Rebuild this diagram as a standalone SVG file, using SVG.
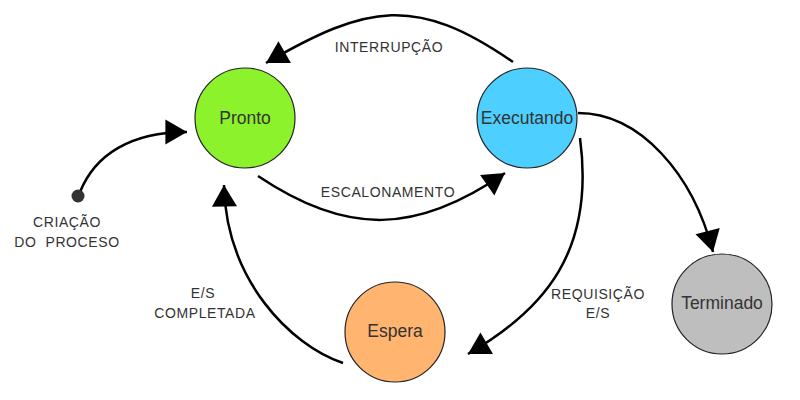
<svg xmlns="http://www.w3.org/2000/svg" width="800" height="400" viewBox="0 0 800 400">
  <defs>
    <marker id="arrow" markerUnits="userSpaceOnUse" markerWidth="24" markerHeight="26" viewBox="0 -13 22 26" refX="21.6" refY="0" orient="auto">
      <path d="M0,-12.5 L21.6,0 L0,12.5 Z" fill="#000"/>
    </marker>
    <style>
      .node { stroke: #222; stroke-width: 1.2; }
      .nlabel { font-family: "Liberation Sans", Arial, sans-serif; font-size: 17.5px; fill: #333; text-anchor: middle; }
      .elabel { font-family: "Liberation Sans", Arial, sans-serif; font-size: 14px; letter-spacing: 0.6px; fill: #333; text-anchor: middle; }
      .edge { fill: none; stroke: #000; stroke-width: 2.5; marker-end: url(#arrow); }
    </style>
  </defs>
  <rect width="800" height="400" fill="#fff"/>

  <g id="connectors">
    <path class="edge" d="M513,62 C416,-5 368,4 266,63"/>
    <path class="edge" d="M258,176 C347,236 417,234 505,173"/>
    <path class="edge" d="M80,192 C95,155 130,132 187,132"/>
    <path class="edge" d="M343,363 C290,345 226,280 224,185"/>
    <path class="edge" d="M580,138 C595,250 546,309 468,354"/>
    <path class="edge" d="M578,113 C640,113 693,174 713,252"/>
    <circle cx="78" cy="196" r="6.5" fill="#333"/>
  </g>

  <g id="pronto">
    <circle class="node" cx="245" cy="118" r="50" fill="#8cf22b"/>
    <text class="nlabel" x="245" y="124">Pronto</text>
  </g>
  <g id="executando">
    <circle class="node" cx="527" cy="118" r="50" fill="#4dcfff"/>
    <text class="nlabel" x="527" y="124">Executando</text>
  </g>
  <g id="espera">
    <circle class="node" cx="395" cy="332" r="50" fill="#ffb570"/>
    <text class="nlabel" x="395" y="337">Espera</text>
  </g>
  <g id="terminado">
    <circle class="node" cx="722" cy="304" r="50" fill="#bebebe"/>
    <text class="nlabel" x="722" y="309">Terminado</text>
  </g>

  <g id="labels">
    <text class="elabel" x="389" y="52">INTERRUPÇÃO</text>
    <text class="elabel" x="388" y="197">ESCALONAMENTO</text>
    <text class="elabel" x="67" y="227">CRIAÇÃO</text>
    <text class="elabel" x="67" y="247" xml:space="preserve">DO  PROCESO</text>
    <text class="elabel" x="203" y="298">E/S</text>
    <text class="elabel" x="205" y="318">COMPLETADA</text>
    <text class="elabel" x="598" y="299">REQUISIÇÃO</text>
    <text class="elabel" x="598" y="318">E/S</text>
  </g>
</svg>
